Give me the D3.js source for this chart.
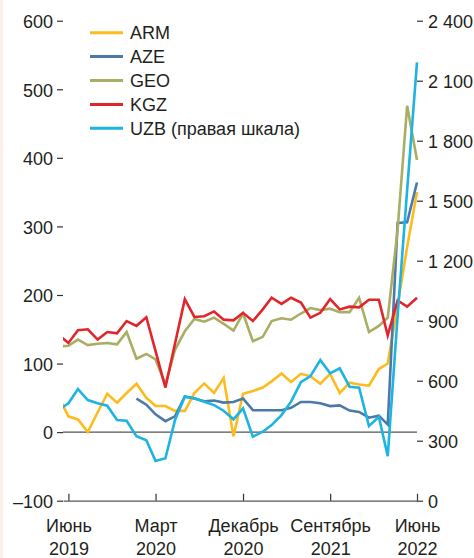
<!DOCTYPE html>
<html>
<head>
<meta charset="utf-8">
<script src="https://cdn.jsdelivr.net/npm/d3@7"></script>
<style>
  html, body { margin: 0; padding: 0; background: #ffffff; }
  svg { display: block; font-family: "Liberation Sans", Arial, sans-serif; }
</style>
</head>
<body>
<div id="chart"></div>
<script>
// Monatsreihe Mai 2019 – Juni 2022 (38 Punkte)
const months = d3.timeMonth.range(new Date(2019, 4, 1), new Date(2022, 6, 1));

// linke Skala
const ARM = [52, 23, 18.5, 0, 29, 56, 43, 57, 70.5, 50, 38, 38, 31, 31, 57, 71, 57, 79, -6, 56,
             60, 65, 74, 85.5, 73, 85, 81.5, 70.5, 85, 57, 72, 69.5, 68, 92, 100, 185, 270, 350];
const AZE = [null, null, null, null, null, null, null, null, 49, 40, 26, 16, 23, 52, 49, 45, 46, 43, 44, 49,
             32, 32, 32, 32, 35.5, 44, 44, 42, 38, 39, 31.5, 29.5, 21, 24, 11, 305, 306, 364];
const GEO = [125, 126, 135, 127, 129, 130, 128, 146, 107, 114, 106, 69.5, 120, 147, 165, 161, 167, 158, 148, 173,
             132.5, 139, 162, 166, 164, 173, 181, 178, 180, 175, 175, 196, 146, 155, 167, 295, 476, 397];
const KGZ = [142, 130, 148.5, 150, 135, 146, 144, 162, 155, 167.5, 118, 65, 129, 194, 168, 169, 176, 164, 163, 174,
             162, 179, 196, 187, 196, 189, 167, 174, 194, 179, 183, 182, 193, 193, 141, 192, 183, 196];
// rechte Skala
const UZB = [453, 487, 558, 503, 487, 475, 403, 400, 322, 302, 199, 212, 403, 520, 512, 495, 478, 450, 407, 462,
             320, 345, 378, 428, 495, 593, 623, 703, 637, 662, 570, 565, 373, 420, 223, 923, 1553, 2192];

const leftTicks = [-100, 0, 100, 200, 300, 400, 500, 600];
const rightTicks = [0, 300, 600, 900, 1200, 1500, 1800, 2100, 2400];
const xTicks = [new Date(2019, 5, 1), new Date(2020, 2, 1), new Date(2020, 11, 1), new Date(2021, 8, 1), new Date(2022, 5, 1)];
const xTickLabels = [["Июнь", "2019"], ["Март", "2020"], ["Декабрь", "2020"], ["Сентябрь", "2021"], ["Июнь", "2022"]];

const series = [
  { name: "ARM", values: ARM, color: "#fdbb1e", axis: "left" },
  { name: "AZE", values: AZE, color: "#4b7aa8", axis: "left" },
  { name: "GEO", values: GEO, color: "#a9ae62", axis: "left" },
  { name: "KGZ", values: KGZ, color: "#e2252b", axis: "left" },
  { name: "UZB (правая шкала)", values: UZB, color: "#1db4e2", axis: "right" }
];

const W = 474, H = 558;
const plot = { left: 63, right: 417, top: 20.7, bottom: 500.7 };

const svg = d3.select("#chart").append("svg")
  .attr("width", W)
  .attr("height", H);

// schmaler Rand links
svg.append("rect").attr("x", 0).attr("y", 0).attr("width", 3).attr("height", H).attr("fill", "#fcefe8");

const x = d3.scaleTime()
  .domain([new Date(2019, 4, 15), new Date(2022, 5, 1)])
  .range([plot.left, plot.right]);

const yL = d3.scaleLinear().domain([-100, 600]).range([plot.bottom, plot.top]);
const yR = d3.scaleLinear().domain([0, 2400]).range([plot.bottom, plot.top]);

const fmt = d3.formatLocale({ decimal: ",", thousands: "\u00a0", grouping: [3], currency: ["", ""], minus: "\u2013" }).format(",d");

// Achse links
const gL = svg.append("g")
  .attr("transform", `translate(${plot.left},0)`)
  .call(d3.axisLeft(yL).tickValues(leftTicks).tickSize(6).tickPadding(4).tickFormat(fmt));
gL.select(".domain").remove();

// Achse rechts
const gR = svg.append("g")
  .attr("transform", `translate(${plot.right},0)`)
  .call(d3.axisRight(yR).tickValues(rightTicks).tickSize(6).tickPadding(5).tickFormat(fmt));
gR.select(".domain").remove();

[gL, gR].forEach(g => {
  g.selectAll(".tick line").attr("stroke", "#333").attr("stroke-width", 1.2);
  g.selectAll(".tick text").attr("font-size", 18).attr("fill", "#231f20").attr("dy", "0.38em");
});

// Nulllinie
svg.append("line")
  .attr("x1", plot.left).attr("x2", plot.right)
  .attr("y1", yL(0)).attr("y2", yL(0))
  .attr("stroke", "#555").attr("stroke-width", 1.3);

// x-Achse
const gX = svg.append("g")
  .attr("transform", `translate(0,${plot.bottom})`)
  .call(d3.axisBottom(x).tickValues(xTicks).tickSizeInner(-7).tickSizeOuter(0).tickFormat(""));
gX.select(".domain").attr("stroke", "#555").attr("stroke-width", 1.3);
gX.selectAll(".tick line").attr("stroke", "#333").attr("stroke-width", 1.2);
gX.selectAll(".tick text").remove();
gX.selectAll(".tick").each(function (d, i) {
  const t = d3.select(this);
  xTickLabels[i].forEach((s, j) => {
    t.append("text")
      .attr("y", 31.8 + j * 22.6)
      .attr("text-anchor", "middle")
      .attr("font-size", 18)
      .attr("fill", "#231f20")
      .text(s);
  });
});

// Linien
svg.append("clipPath").attr("id", "plot-clip")
  .append("rect")
  .attr("x", plot.left).attr("y", 0)
  .attr("width", plot.right - plot.left + 3).attr("height", H);

const linesG = svg.append("g").attr("clip-path", "url(#plot-clip)");

series.forEach(s => {
  const y = s.axis === "left" ? yL : yR;
  const line = d3.line()
    .defined(d => d.v !== null)
    .x(d => x(d.date))
    .y(d => y(d.v));
  linesG.append("path")
    .datum(months.map((date, i) => ({ date, v: s.values[i] })))
    .attr("fill", "none")
    .attr("stroke", s.color)
    .attr("stroke-width", 2.6)
    .attr("stroke-linejoin", "miter")
    .attr("d", line);
});

// Legende
const legend = svg.append("g").attr("transform", "translate(90,32.7)");
series.forEach((s, i) => {
  const row = legend.append("g").attr("transform", `translate(0,${i * 23.9})`);
  row.append("line").attr("x1", 0).attr("x2", 33).attr("stroke", s.color).attr("stroke-width", 3);
  row.append("text")
    .attr("x", 40).attr("y", 6.6)
    .attr("font-size", 18)
    .attr("fill", "#231f20")
    .text(s.name);
});
</script>
</body>
</html>
